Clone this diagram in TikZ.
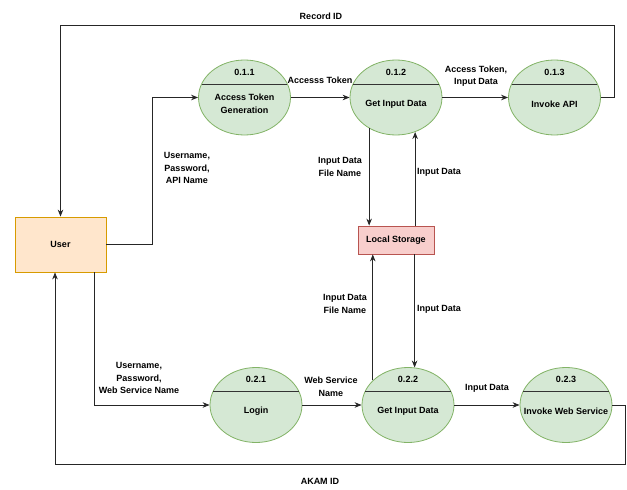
\documentclass[tikz,border=0pt]{standalone}
\usepackage{fontspec}
\setmainfont{Liberation Sans}
\usetikzlibrary{shapes.geometric,arrows.meta,calc}
\definecolor{pfill}{HTML}{D5E8D4}
\definecolor{pdraw}{HTML}{82B366}
\definecolor{ufill}{HTML}{FFE6CC}
\definecolor{udraw}{HTML}{D79B00}
\definecolor{sfill}{HTML}{F8CECC}
\definecolor{sdraw}{HTML}{B85450}
\tikzset{
  proc/.style={ellipse, draw=pdraw, fill=pfill, line width=0.8pt, minimum width=92pt, minimum height=75pt, inner sep=0pt},
  lbl/.style={font=\bfseries\fontsize{9}{12.5}\selectfont, align=center, inner sep=0pt},
  flow/.style={draw=black!85, line width=0.8pt, -{Stealth[length=7pt,width=5.5pt]}},
  divline/.style={draw=black!80, line width=0.9pt},
  entity/.style={rectangle, draw=udraw, fill=ufill, line width=0.8pt, minimum width=91pt, minimum height=55pt, inner sep=0pt},
  store/.style={rectangle, draw=sdraw, fill=sfill, line width=0.8pt, minimum width=76pt, minimum height=28pt, inner sep=0pt}
}
\newcommand\procnode[5]{%
  \node[proc] (#1) at (#2,#3) {};
  \draw[divline] ($(#1.center)+(-42.9,-13.5)$) -- ($(#1.center)+(42.9,-13.5)$);
  \node[lbl] (#1-num) at ($(#1.center)+(0,-25.5)$) {#4};
  \node[lbl] (#1-txt) at ($(#1.center)+(0,6.5)$) {#5};
}
\begin{document}
\begin{tikzpicture}[x=1pt,y=-1pt]
\useasboundingbox (0,0) rectangle (627,490);

% nodes
\node[entity, lbl] (user) at (60.5,244.5) {User};
\node[store, lbl] (ls) at (396,240) {Local Storage};
\procnode{p11}{244.5}{97.5}{0.1.1}{Access Token\\Generation}
\procnode{p12}{396}{97.5}{0.1.2}{Get Input Data}
\procnode{p13}{554.5}{97.5}{0.1.3}{Invoke API}
\procnode{p21}{256}{405}{0.2.1}{Login}
\procnode{p22}{408}{405}{0.2.2}{Get Input Data}
\procnode{p23}{566}{405}{0.2.3}{Invoke Web Service}

% helper coordinates
\coordinate (rA) at (614,25);
\coordinate (c1) at (152.5,170);
\coordinate (u2) at (94,330);
\coordinate (aA) at (625.5,464);
\coordinate (u3) at (55,330);

% connectors
\draw[flow] (p13.east) -| (rA) -| (user.north);
\draw[flow] (user.east) -| (c1 |- p11.west) -- (p11.west);
\draw[flow] (p11.east) -- (p12.west);
\draw[flow] (p12.east) -- (p13.west);
\draw[flow] (p12.229.9) -- (p12.229.9 |- ls.north);
\draw[flow] (p12.299.1 |- ls.north) -- (p12.299.1);
\draw[flow] (p22.145.2) -- (p22.145.2 |- ls.south);
\draw[flow] (p22.80.8 |- ls.south) -- (p22.80.8);
\draw[flow] (user.south -| u2) |- (p21.west);
\draw[flow] (p21.east) -- (p22.west);
\draw[flow] (p22.east) -- (p23.west);
\draw[flow] (p23.east) -| (aA) -| (user.south -| u3);

% labels
\node[lbl] (lrec) at (321,16) {Record ID};
\node[lbl] (lupa) at (187,168) {Username,\\Password,\\API Name};
\node[lbl] (lat) at (320,80) {Accesss Token};
\node[lbl] (latid) at (476,76) {Access Token,\\Input Data};
\node[lbl] (lfn1) at (340,167) {Input Data\\File Name};
\node[lbl] (lid1) at (439,172) {Input Data};
\node[lbl] (lfn2) at (345,304) {Input Data\\File Name};
\node[lbl] (lid2) at (439,309) {Input Data};
\node[lbl] (lupw) at (139,378) {Username,\\Password,\\Web Service Name};
\node[lbl] (lwsn) at (331,387) {Web Service\\Name};
\node[lbl] (lid3) at (487,388) {Input Data};
\node[lbl] (lakam) at (320,481) {AKAM ID};
\end{tikzpicture}
\end{document}
